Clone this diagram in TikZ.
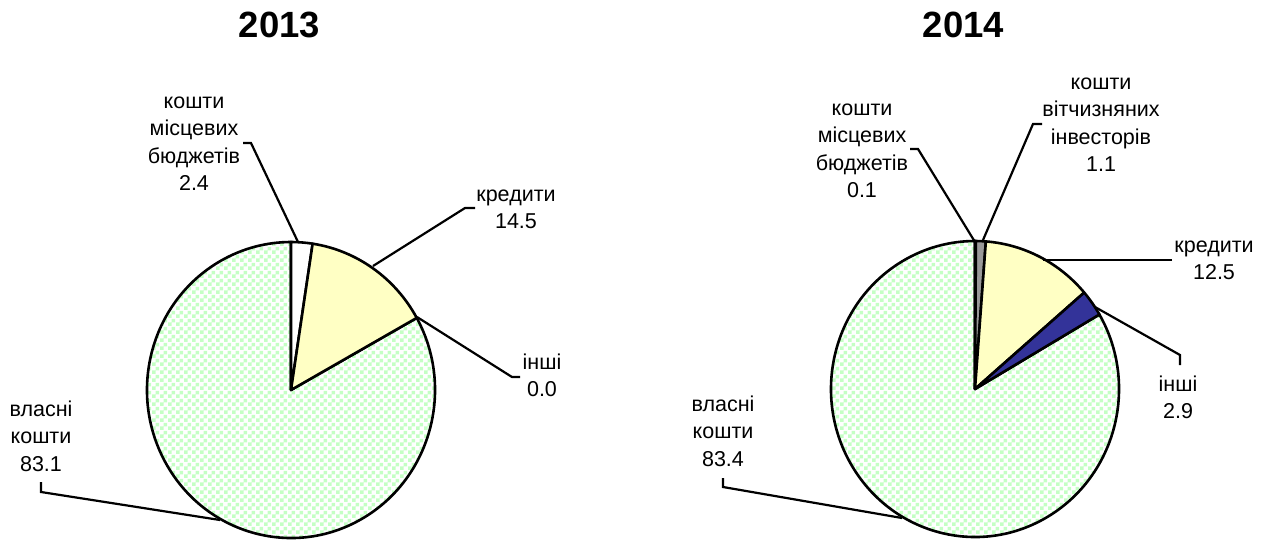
\documentclass[tikz,border=0pt]{standalone}
\usepackage{fontspec}
\setmainfont{Liberation Sans}
\usetikzlibrary{patterns}
\pgfdeclarepatternformonly{greencheck}{\pgfpointorigin}{\pgfqpoint{8pt}{8pt}}{\pgfqpoint{8pt}{8pt}}{%
  \pgfpathrectangle{\pgfpointorigin}{\pgfqpoint{4pt}{4pt}}%
  \pgfpathrectangle{\pgfqpoint{4pt}{4pt}}{\pgfqpoint{4pt}{4pt}}%
  \pgfusepath{fill}}
\definecolor{chkgreen}{HTML}{C4FFC4}
\definecolor{pieyellow}{HTML}{FFFFC4}
\definecolor{pieblue}{HTML}{333399}
\definecolor{piegray}{HTML}{999999}
\begin{document}
\begin{tikzpicture}[x=1pt,y=-1pt,
  title/.style={font=\fontsize{36.5}{40}\selectfont\bfseries, inner sep=0pt, anchor=base},
  lbl/.style={font=\fontsize{21.5}{27.5}\selectfont, align=center, inner sep=0pt, anchor=north},
  slice/.style={draw=black, line width=2.6pt, line join=round},
  leader/.style={draw=black, line width=2.2pt, line join=miter},
  greenfill/.style={pattern=greencheck, pattern color=chkgreen}]
\useasboundingbox (0,0) rectangle (1268,541);

% ---------- 2013 ----------
\node[title] (t13) at (279.5,37) {2013};
\coordinate (C1) at (291,390);
\draw[slice, greenfill] (C1) -- ++(29.16:144pt and 148pt)
  arc[start angle=29.16, end angle=-270, x radius=144pt, y radius=148pt] -- cycle;
\draw[slice, fill=white] (C1) -- ++(90:144pt and 148pt)
  arc[start angle=90, end angle=81.36, x radius=144pt, y radius=148pt] -- cycle;
\draw[slice, fill=pieyellow] (C1) -- ++(81.36:144pt and 148pt)
  arc[start angle=81.36, end angle=29.16, x radius=144pt, y radius=148pt] -- cycle;

\node[lbl] (l1) at (194,89) {\strut кошти\\\strut місцевих\\\strut бюджетів\\\strut 2.4};
\node[lbl] (l2) at (516,182) {\strut кредити\\\strut 14.5};
\node[lbl] (l3) at (542,350) {\strut інші\\\strut 0.0};
\node[lbl] (l4) at (41,397) {\strut власні\\\strut кошти\\\strut 83.1};

\coordinate (l1a) at (243,143); \coordinate (l1b) at (251,143); \coordinate (l1c) at (298,242);
\coordinate (l2a) at (475,208); \coordinate (l2b) at (465,208); \coordinate (l2c) at (373,266);
\coordinate (l3a) at (520,377); \coordinate (l3b) at (512,377); \coordinate (l3c) at (417,317);
\coordinate (l4a) at (41,482);  \coordinate (l4b) at (41,492);  \coordinate (l4c) at (220,520);
\draw[leader] (l1a) -- (l1b) -- (l1c);
\draw[leader] (l2a) -- (l2b) -- (l2c);
\draw[leader] (l3a) -- (l3b) -- (l3c);
\draw[leader] (l4a) -- (l4b) -- (l4c);

% ---------- 2014 ----------
\node[title] (t14) at (963.5,37) {2014};
\coordinate (C2) at (975,389);
\draw[slice, greenfill] (C2) -- ++(30.24:144pt and 148pt)
  arc[start angle=30.24, end angle=-270, x radius=144pt, y radius=148pt] -- cycle;
\draw[slice, fill=black] (C2) -- ++(90:144pt and 148pt)
  arc[start angle=90, end angle=89.64, x radius=144pt, y radius=148pt] -- cycle;
\draw[slice, fill=piegray] (C2) -- ++(89.64:144pt and 148pt)
  arc[start angle=89.64, end angle=85.68, x radius=144pt, y radius=148pt] -- cycle;
\draw[slice, fill=pieyellow] (C2) -- ++(85.68:144pt and 148pt)
  arc[start angle=85.68, end angle=40.68, x radius=144pt, y radius=148pt] -- cycle;
\draw[slice, fill=pieblue] (C2) -- ++(40.68:144pt and 148pt)
  arc[start angle=40.68, end angle=30.24, x radius=144pt, y radius=148pt] -- cycle;

\node[lbl] (r1) at (862,96) {\strut кошти\\\strut місцевих\\\strut бюджетів\\\strut 0.1};
\node[lbl] (r2) at (1101,70) {\strut кошти\\\strut вітчизняних\\\strut інвесторів\\\strut 1.1};
\node[lbl] (r3) at (1214,233) {\strut кредити\\\strut 12.5};
\node[lbl] (r4) at (1178,372) {\strut інші\\\strut 2.9};
\node[lbl] (r5) at (723,392) {\strut власні\\\strut кошти\\\strut 83.4};

\coordinate (r1a) at (910,149);  \coordinate (r1b) at (918,149);  \coordinate (r1c) at (975,242);
\coordinate (r2a) at (1042,124); \coordinate (r2b) at (1033,124); \coordinate (r2c) at (983,240);
\coordinate (r3a) at (1172,260); \coordinate (r3c) at (1043,260);
\coordinate (r4a) at (1180,365); \coordinate (r4b) at (1180,355); \coordinate (r4c) at (1095,307);
\coordinate (r5a) at (723,478);  \coordinate (r5b) at (723,487);  \coordinate (r5c) at (902,518);
\draw[leader] (r1a) -- (r1b) -- (r1c);
\draw[leader] (r2a) -- (r2b) -- (r2c);
\draw[leader] (r3a) -- (r3c);
\draw[leader] (r4a) -- (r4b) -- (r4c);
\draw[leader] (r5a) -- (r5b) -- (r5c);
\end{tikzpicture}
\end{document}
